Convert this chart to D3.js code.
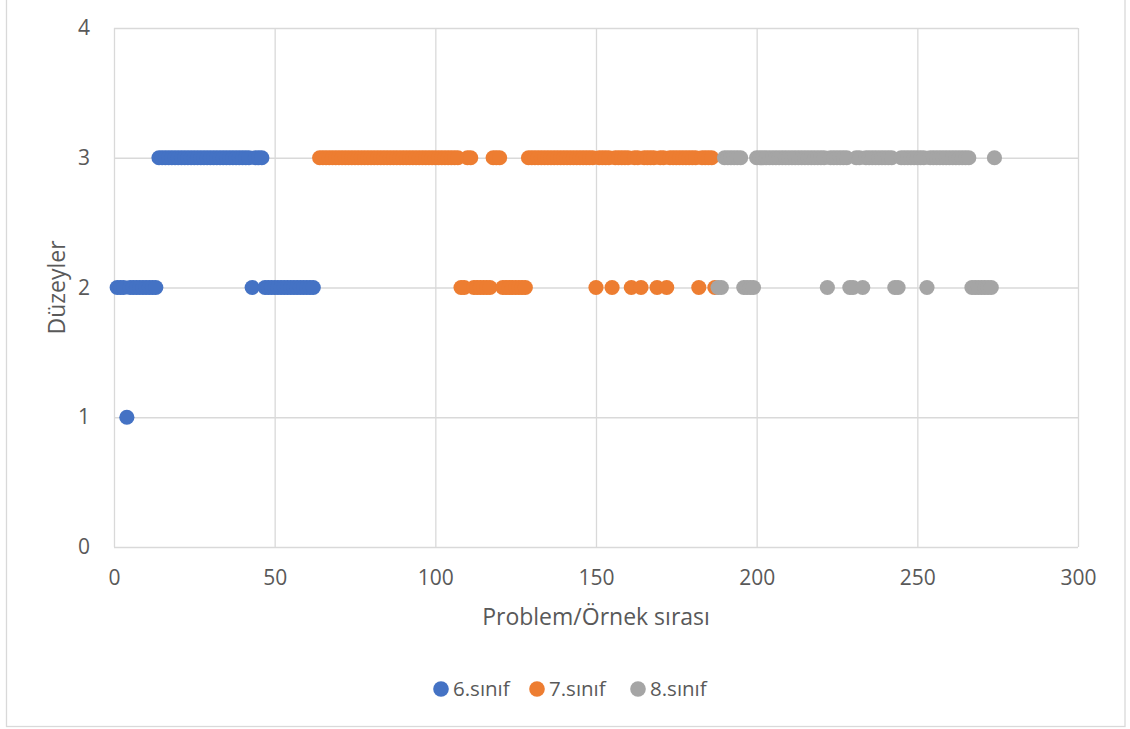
<!DOCTYPE html>
<html>
<head>
<meta charset="utf-8">
<script src="https://cdn.jsdelivr.net/npm/d3@7"></script>
<style>
    body { margin: 0; background: #fff; }
    text { font-family: "Open Sans", sans-serif; fill: #595959; }
</style>
</head>
<body>
<div id="chart"></div>
<script>
// problem numbers per level
const seriesNames = ["6.sınıf", "7.sınıf", "8.sınıf"];
const seriesColors = ["#4472C4", "#ED7D31", "#A5A5A5"];

const grade6Level1 = [4];
const grade6Level2 = [1, 2, 3, 5, 6, 7, 8, 9, 10, 11, 12, 13, 43, 47, 48, 49, 50, 51, 52, 53, 54, 55, 56, 57, 58, 59, 60, 61, 62];
const grade6Level3 = [14, 15, 16, 17, 18, 19, 20, 21, 22, 23, 24, 25, 26, 27, 28, 29, 30, 31, 32, 33, 34, 35, 36, 37, 38, 39, 40, 41, 42, 44, 45, 46];

const grade7Level2 = [108, 109, 112, 113, 114, 115, 116, 117, 121, 122, 123, 124, 125, 126, 127, 128, 150, 155, 161, 164, 169, 172, 182, 187];
const grade7Level3 = [64, 65, 66, 67, 68, 69, 70, 71, 72, 73, 74, 75, 76, 77, 78, 79, 80, 81, 82, 83, 84, 85, 86, 87, 88, 89, 90,
    91, 92, 93, 94, 95, 96, 97, 98, 99, 100, 101, 102, 103, 104, 105, 106, 107, 110, 111, 118, 119, 120,
    129, 130, 131, 132, 133, 134, 135, 136, 137, 138, 139, 140, 141, 142, 143, 144, 145, 146, 147, 148, 149, 151, 152, 153, 154,
    156, 157, 158, 159, 160, 162, 163, 165, 166, 167, 168, 170, 171, 173, 174, 175, 176, 177, 178, 179, 180, 181, 183, 184, 185, 186];

const grade8Level2 = [188, 189, 196, 197, 198, 199, 222, 229, 230, 233, 243, 244, 253, 267, 268, 269, 270, 271, 272, 273];
const grade8Level3 = [190, 191, 192, 193, 194, 195, 200, 201, 202, 203, 204, 205, 206, 207, 208, 209, 210, 211, 212, 213, 214, 215,
    216, 217, 218, 219, 220, 221, 223, 224, 225, 226, 227, 228, 231, 232, 234, 235, 236, 237, 238, 239, 240, 241, 242,
    245, 246, 247, 248, 249, 250, 251, 252, 254, 255, 256, 257, 258, 259, 260, 261, 262, 263, 264, 265, 266, 274];

const xTicks = [0, 50, 100, 150, 200, 250, 300];
const yTicks = [0, 1, 2, 3, 4];
const xTitle = "Problem/Örnek sırası";
const yTitle = "Düzeyler";

function toPoints(levels) {
    let pts = [];
    levels.forEach(([level, list]) => list.forEach(n => pts.push({x: n, y: level})));
    return pts.sort((a, b) => a.x - b.x);
}

const series = [
    toPoints([[1, grade6Level1], [2, grade6Level2], [3, grade6Level3]]),
    toPoints([[2, grade7Level2], [3, grade7Level3]]),
    toPoints([[2, grade8Level2], [3, grade8Level3]])
];

const width = 1130, height = 729;
const plot = {left: 114, right: 1078, top: 28, bottom: 547};

const svg = d3.select("#chart").append("svg")
    .attr("width", width)
    .attr("height", height);

// outer chart border
svg.append("rect")
    .attr("x", 6.5).attr("y", -2)
    .attr("width", 1118.5).attr("height", 728.5)
    .attr("fill", "none")
    .attr("stroke", "#d9d9d9")
    .attr("stroke-width", 1.3);

const x = d3.scaleLinear().domain([0, 300]).range([plot.left, plot.right]);
const y = d3.scaleLinear().domain([0, 4]).range([plot.bottom, plot.top]);

// gridlines
svg.append("g")
    .attr("class", "grid-x")
    .attr("transform", "translate(0," + plot.bottom + ")")
    .call(d3.axisBottom(x).tickValues(xTicks).tickSize(-(plot.bottom - plot.top)).tickFormat(""))
    .call(g => g.select(".domain").remove())
    .call(g => g.selectAll("line").attr("stroke", "#d9d9d9").attr("stroke-width", 1.3));

svg.append("g")
    .attr("class", "grid-y")
    .attr("transform", "translate(" + plot.left + ",0)")
    .call(d3.axisLeft(y).tickValues(yTicks).tickSize(-(plot.right - plot.left)).tickFormat(""))
    .call(g => g.select(".domain").remove())
    .call(g => g.selectAll("line").attr("stroke", "#d9d9d9").attr("stroke-width", 1.3));

// tick labels
svg.append("g")
    .attr("transform", "translate(0," + plot.bottom + ")")
    .call(d3.axisBottom(x).tickValues(xTicks).tickSize(0).tickPadding(23).tickFormat(d3.format("d")))
    .call(g => g.select(".domain").remove())
    .call(g => g.selectAll("text").attr("font-size", 21).attr("font-family", null).attr("fill", null));

svg.append("g")
    .attr("transform", "translate(" + plot.left + ",0)")
    .call(d3.axisLeft(y).tickValues(yTicks).tickSize(0).tickPadding(24).tickFormat(d3.format("d")))
    .call(g => g.select(".domain").remove())
    .call(g => g.selectAll("text").attr("font-size", 21).attr("font-family", null).attr("fill", null));

// axis titles
svg.append("text")
    .attr("x", (plot.left + plot.right) / 2)
    .attr("y", 625)
    .attr("text-anchor", "middle")
    .attr("font-size", 23)
    .text(xTitle);

svg.append("text")
    .attr("transform", "translate(65," + (plot.top + plot.bottom) / 2 + ") rotate(-90)")
    .attr("text-anchor", "middle")
    .attr("font-size", 23)
    .text(yTitle);

// points
series.forEach((pts, i) => {
    svg.append("g")
        .attr("class", "series-" + i)
        .selectAll("circle")
        .data(pts)
        .enter()
        .append("circle")
        .attr("cx", d => x(d.x))
        .attr("cy", d => y(d.y))
        .attr("r", 7.6)
        .attr("fill", seriesColors[i]);
});

// legend
const legendX = [441, 537, 638];
const legend = svg.append("g").attr("class", "legend")
    .selectAll("g")
    .data(seriesNames)
    .enter()
    .append("g")
    .attr("transform", (d, i) => "translate(" + legendX[i] + ",689)");

legend.append("circle")
    .attr("r", 7.8)
    .attr("fill", (d, i) => seriesColors[i]);

legend.append("text")
    .attr("x", 12)
    .attr("dy", "0.35em")
    .attr("font-size", 20.5)
    .text(d => d);
</script>
</body>
</html>
